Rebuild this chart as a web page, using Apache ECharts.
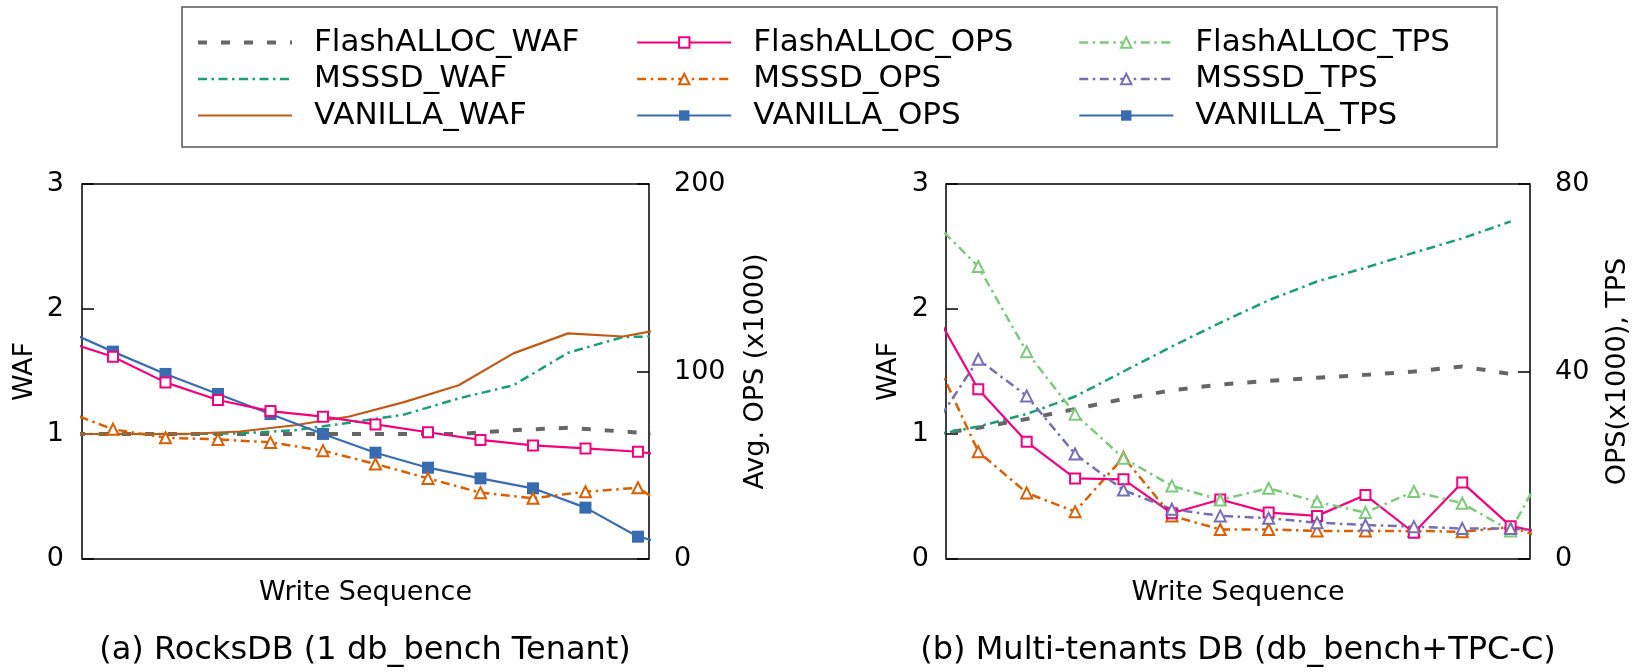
<!DOCTYPE html>
<html>
<head>
<meta charset="utf-8">
<script src="https://cdn.jsdelivr.net/npm/echarts@6/dist/echarts.min.js"></script>
<style>
html, body { margin: 0; padding: 0; background: #fff; }
#chart { width: 1643px; height: 672px; }
</style>
</head>
<body>
<div id="chart"></div>
<script>
// ---- data -------------------------------------------------------------
// (a) RocksDB, one db_bench tenant
const seqA = [0, 1, 2, 3, 4, 5, 6, 7, 8, 9, 10, 11, 12];          // throughput samples
const wafSeqA = [0, 1, 2, 3, 4, 5, 6, 7, 8, 9, 10, 11];           // WAF samples
const flashallocWafA = [1.0, 1.0, 1.0, 1.0, 1.0, 1.0, 1.0, 1.0, 1.03, 1.05, 1.02, 0.99];
const msssdWafA      = [1.0, 1.0, 1.0, 1.005, 1.03, 1.09, 1.155, 1.285, 1.39, 1.65, 1.775, 1.785];
const vanillaWafA    = [1.0, 1.0, 1.0, 1.02, 1.07, 1.14, 1.255, 1.39, 1.645, 1.805, 1.78, 1.86];
const flashallocOpsA = [116.9, 107.9, 94.2, 84.8, 78.9, 75.9, 71.8, 67.6, 63.5, 60.6, 59.0, 57.2, 53.5];
const msssdOpsA      = [79.7, 69.2, 64.7, 63.8, 62.2, 57.8, 50.7, 43.0, 35.4, 32.4, 35.9, 38.0, 19.5];
const vanillaOpsA    = [123.0, 110.6, 98.7, 88.0, 77.3, 66.7, 56.7, 48.7, 43.0, 37.7, 27.4, 11.9, 5.0];

// (b) Multi-tenant DB, db_bench + TPC-C
const seqB = [0, 1, 2, 3, 4, 5, 6, 7, 8, 9, 10, 11, 12, 13];
const wafSeqB = [0, 1, 2, 3, 4, 5, 6, 7, 8, 9, 10, 11, 12];
const flashallocWafB = [0.99, 1.05, 1.12, 1.20, 1.28, 1.35, 1.395, 1.425, 1.45, 1.473, 1.50, 1.54, 1.48];
const msssdWafB      = [0.985, 1.06, 1.16, 1.30, 1.50, 1.70, 1.89, 2.07, 2.22, 2.33, 2.45, 2.565, 2.70];
const flashallocOpsB = [54.5, 36.2, 25.0, 17.2, 17.0, 9.75, 12.7, 9.9, 9.2, 13.65, 5.6, 16.3, 7.0, 5.0];
const msssdOpsB      = [45.2, 22.9, 14.1, 10.1, 21.7, 9.2, 6.3, 6.3, 6.0, 6.0, 6.0, 5.8, 6.8, 3.55];
const flashallocTpsB = [72.7, 62.4, 44.2, 30.9, 21.5, 15.6, 12.6, 15.1, 12.2, 9.9, 14.4, 11.9, 6.0, 25.0];
const msssdTpsB      = [26.9, 42.6, 34.8, 22.4, 14.7, 10.6, 9.2, 8.7, 7.75, 7.25, 6.9, 6.5, 6.5, 5.75];
const vanillaTpsB    = [];

// axis ranges / tick steps
const wafTicks = { min: 0, max: 3, interval: 1 };
const opsTicksA = { min: 0, max: 200, interval: 100 };
const opsTicksB = { min: 0, max: 80, interval: 40 };

const legendCols = [
  ['FlashALLOC_WAF', 'MSSSD_WAF', 'VANILLA_WAF'],
  ['FlashALLOC_OPS', 'MSSSD_OPS', 'VANILLA_OPS'],
  ['FlashALLOC_TPS', 'MSSSD_TPS', 'VANILLA_TPS']
];

// ---- styles -----------------------------------------------------------
const FONT = 'DejaVu Sans';
const DASH = [9, 14];
const DASHDOT = [9, 4.5, 2.5, 4.5];
const STY = {
  FlashALLOC_WAF: { color: '#666666', width: 4, type: DASH, symbol: 'none' },
  MSSSD_WAF:      { color: '#1b9e77', width: 2.5, type: DASHDOT, symbol: 'none' },
  VANILLA_WAF:    { color: '#bf5b17', width: 2.2, type: 'solid', symbol: 'none' },
  FlashALLOC_OPS: { color: '#f0027f', width: 2.2, type: 'solid', symbol: 'rect', size: 10, hollow: true },
  MSSSD_OPS:      { color: '#d95f02', width: 2.5, type: DASHDOT, symbol: 'triangle', size: 11, hollow: true },
  VANILLA_OPS:    { color: '#386cb0', width: 2.2, type: 'solid', symbol: 'rect', size: 12, hollow: false },
  FlashALLOC_TPS: { color: '#7fc97f', width: 2.5, type: DASHDOT, symbol: 'triangle', size: 11, hollow: true },
  MSSSD_TPS:      { color: '#7570b3', width: 2.5, type: DASHDOT, symbol: 'triangle', size: 11, hollow: true },
  VANILLA_TPS:    { color: '#386cb0', width: 2.2, type: 'solid', symbol: 'rect', size: 12, hollow: false }
};

function itemStyleOf(s) {
  if (s.symbol === 'none') return { color: s.color, opacity: 0 };
  return s.hollow
    ? { color: '#ffffff', borderColor: s.color, borderWidth: 2 }
    : { color: s.color, borderWidth: 0 };
}

function pairs(xs, ys) { return ys.map((v, i) => [xs[i], v]); }

function line(name, xIdx, yIdx, xs, ys) {
  const s = STY[name];
  return {
    name, type: 'line', xAxisIndex: xIdx, yAxisIndex: yIdx,
    data: pairs(xs, ys),
    clip: true,
    symbol: s.symbol, symbolSize: s.size || 0, showSymbol: s.symbol !== 'none',
    lineStyle: { color: s.color, width: s.width, type: s.type },
    itemStyle: itemStyleOf(s),
    emphasis: { disabled: true },
    animation: false
  };
}

const txt = (size) => ({ fontFamily: FONT, fontSize: size, color: '#000' });

function yAxis(grid, ticks, pos, name, gap, margin) {
  return {
    gridIndex: grid, type: 'value', position: pos,
    min: ticks.min, max: ticks.max, interval: ticks.interval,
    axisLine: { show: false },
    axisTick: { show: true, inside: true, length: 12, lineStyle: { color: '#000', width: 1.5 } },
    axisLabel: Object.assign({ margin }, txt(27)),
    splitLine: { show: false },
    name, nameLocation: 'middle', nameGap: gap, nameMoveOverlap: false,
    nameTextStyle: Object.assign({ lineHeight: 27 }, txt(27))
  };
}

function xAxis(grid, min, max, named) {
  const a = {
    gridIndex: grid, type: 'value', min, max,
    axisLine: { show: false }, axisTick: { show: false },
    axisLabel: { show: false }, splitLine: { show: false }
  };
  if (named) {
    Object.assign(a, {
      name: 'Write Sequence', nameLocation: 'middle', nameGap: 20, nameMoveOverlap: false,
      nameTextStyle: Object.assign({ lineHeight: 27 }, txt(27))
    });
  } else {
    a.show = false;
  }
  return a;
}

function legend(col, left) {
  return {
    data: legendCols[col].map(n => {
      const s = STY[n];
      return { name: n, itemStyle: itemStyleOf(s), lineStyle: { color: s.color, width: s.width, type: s.type } };
    }),
    orient: 'vertical', left, top: 27, padding: 0,
    itemWidth: 94, itemHeight: 13, itemGap: 5.5,
    selectedMode: false,
    textStyle: Object.assign({ lineHeight: 31, padding: [0, 0, 0, 17] }, txt(31))
  };
}

const option = {
  backgroundColor: '#ffffff',
  animation: false,
  textStyle: { fontFamily: FONT },
  grid: [
    { left: 82, top: 184, width: 567, height: 375, show: true, borderColor: '#000', borderWidth: 1.5, backgroundColor: 'transparent', outerBoundsMode: 'none' },
    { left: 946, top: 184, width: 584, height: 375, show: true, borderColor: '#000', borderWidth: 1.5, backgroundColor: 'transparent', outerBoundsMode: 'none' }
  ],
  xAxis: [
    xAxis(0, 0.41, 11.21, true),
    xAxis(0, 0.11, 10.48, false),
    xAxis(1, 0.333, 12.40, true)
  ],
  yAxis: [
    yAxis(0, wafTicks, 'left', 'WAF', 44, 18),
    yAxis(0, opsTicksA, 'right', 'Avg. OPS (x1000)', 93, 25),
    yAxis(1, wafTicks, 'left', 'WAF', 44, 17),
    yAxis(1, opsTicksB, 'right', 'OPS(x1000), TPS', 74, 25)
  ],
  legend: [legend(0, 196), legend(1, 636), legend(2, 1078)],
  graphic: [
    { type: 'rect', shape: { x: 182, y: 7, width: 1315, height: 140 },
      style: { fill: 'none', stroke: '#555', lineWidth: 1.5 }, silent: true },
    { type: 'text', x: 365, y: 651, silent: true,
      style: { text: '(a) RocksDB (1 db_bench Tenant)', fontFamily: FONT, fontSize: 32, fill: '#000', align: 'center', verticalAlign: 'middle' } },
    { type: 'text', x: 1238, y: 651, silent: true,
      style: { text: '(b) Multi-tenants DB (db_bench+TPC-C)', fontFamily: FONT, fontSize: 32, fill: '#000', align: 'center', verticalAlign: 'middle' } }
  ],
  series: [
    line('FlashALLOC_WAF', 1, 0, wafSeqA, flashallocWafA),
    line('MSSSD_WAF', 1, 0, wafSeqA, msssdWafA),
    line('VANILLA_WAF', 1, 0, wafSeqA, vanillaWafA),
    line('VANILLA_OPS', 0, 1, seqA, vanillaOpsA),
    line('MSSSD_OPS', 0, 1, seqA, msssdOpsA),
    line('FlashALLOC_OPS', 0, 1, seqA, flashallocOpsA),

    line('FlashALLOC_WAF', 2, 2, wafSeqB, flashallocWafB),
    line('MSSSD_WAF', 2, 2, wafSeqB, msssdWafB),
    line('MSSSD_OPS', 2, 3, seqB, msssdOpsB),
    line('FlashALLOC_OPS', 2, 3, seqB, flashallocOpsB),
    line('FlashALLOC_TPS', 2, 3, seqB, flashallocTpsB),
    line('MSSSD_TPS', 2, 3, seqB, msssdTpsB),
    line('VANILLA_TPS', 2, 3, seqB, vanillaTpsB)
  ]
};

const chart = echarts.init(document.getElementById('chart'), null, { renderer: 'canvas' });
chart.setOption(option);
</script>
</body>
</html>
